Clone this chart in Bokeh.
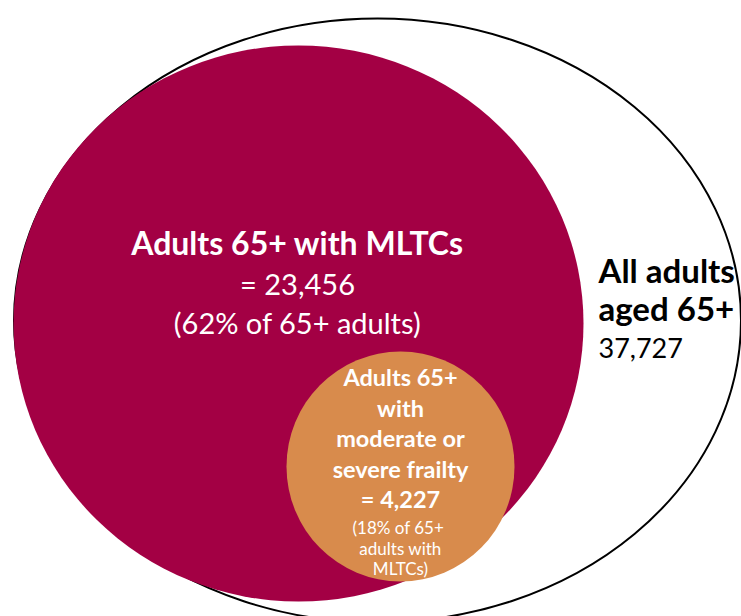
from bokeh.plotting import figure
from bokeh.models import Range1d
from bokeh.core.properties import value
from bokeh.embed import file_html
from bokeh.resources import INLINE

# ---- data ----
groups = ["All adults aged 65+", "Adults 65+ with MLTCs",
          "Adults 65+ with moderate or severe frailty"]
counts = [37727, 23456, 4227]
pct_of_parent = [None, 62, 18]

outer_lines = ["All adults", "aged 65+"]
mltc_title = "Adults 65+ with MLTCs"
frail_lines = ["Adults 65+", "with", "moderate or", "severe frailty"]
frail_note = ["(18% of  65+", "adults with", "MLTCs)"]

# ---- layout (page pixel geometry) ----
W, H = 741, 616
def Y(py):
    return H - py

CRIMSON = "#A30044"
ORANGE = "#D88B4C"
FONT = "Lato"

p = figure(width=W, height=H, output_backend="svg", toolbar_location=None,
           x_range=Range1d(0, W), y_range=Range1d(0, H),
           x_axis_location=None, y_axis_location=None, min_border=0)
p.grid.visible = False
p.outline_line_color = None
p.background_fill_color = "white"

# outer ellipse: all adults 65+
p.ellipse(x=[377], y=[Y(320)], width=[727], height=[604],
          fill_color="white", line_color="black", line_width=2)
# MLTC ellipse
p.ellipse(x=[298], y=[Y(323)], width=[570], height=[556],
          fill_color=CRIMSON, line_color=None)
# frailty circle
p.ellipse(x=[400], y=[Y(466)], width=[228], height=[230],
          fill_color=ORANGE, line_color=None)

def txt(x, py, s, size, bold=False, color="white", align="center"):
    py = py - 0.35 * size
    p.text(x=[x], y=[Y(py)], text=[s], text_font=value(FONT),
           text_font_size=f"{size}px",
           text_font_style="bold" if bold else "normal",
           text_color=color, text_align=align, text_baseline="alphabetic")

# MLTC label
txt(297, 253, mltc_title, 32, bold=True)
txt(297, 293, f"= {counts[1]:,}", 29)
txt(297, 332, f"({pct_of_parent[1]}% of 65+ adults)", 29)

# outer label
txt(598, 281, outer_lines[0], 33, bold=True, color="black", align="left")
txt(598, 319, outer_lines[1], 33, bold=True, color="black", align="left")
txt(598, 357, f"{counts[0]:,}", 27, color="black", align="left")

# frailty label
for i, s in enumerate(frail_lines):
    txt(400, 385 + 30.5 * i, s, 23.5, bold=True)
txt(400, 507, f"= {counts[2]:,}", 23.5, bold=True)
for i, s in enumerate(frail_note):
    txt(400, 533 + 20.5 * i, s, 17)

open("out.html", "w").write(file_html(p, INLINE))
